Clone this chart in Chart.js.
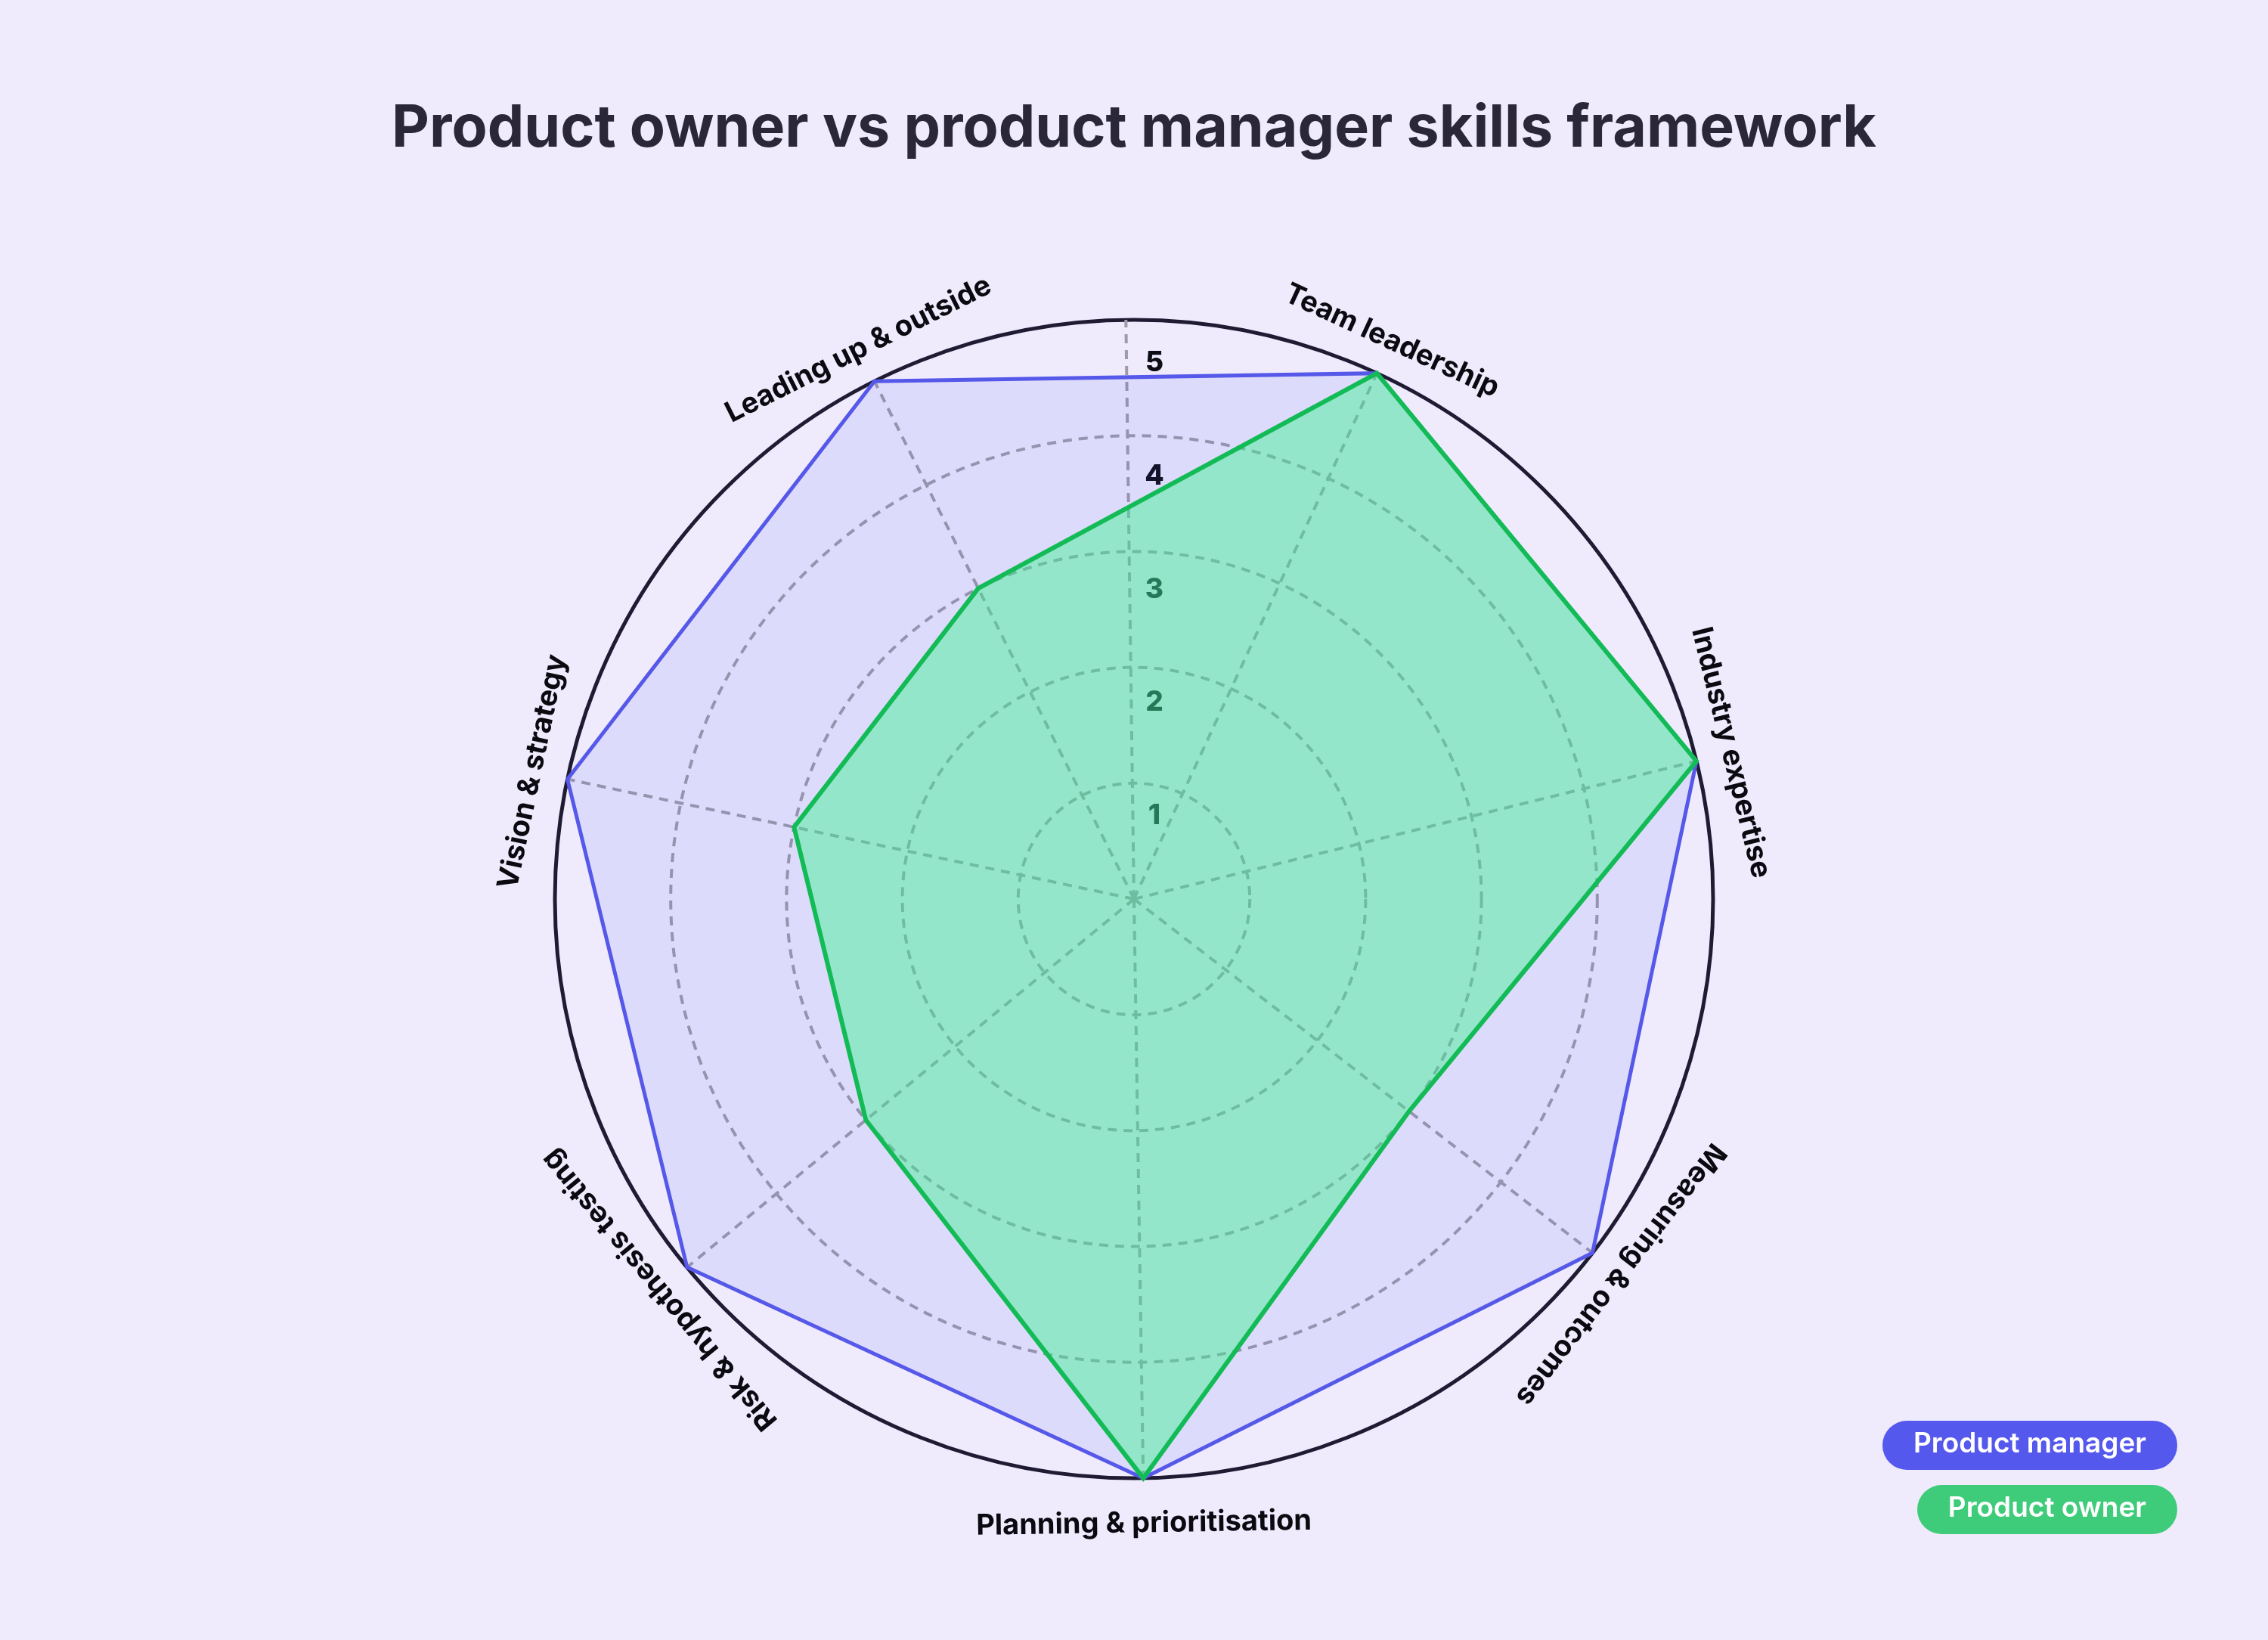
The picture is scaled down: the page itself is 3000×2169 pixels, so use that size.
<!DOCTYPE html>
<html>
<head>
<meta charset="utf-8">
<script src="https://cdn.jsdelivr.net/npm/chart.js@4.4.1/dist/chart.umd.min.js"></script>
<style>
  html, body { margin: 0; padding: 0; background: #efebfd; }
  #wrap { position: relative; width: 3000px; height: 2169px; }
  #legend { position: absolute; right: 120px; top: 1879px; display: flex; flex-direction: column; align-items: flex-end; gap: 20px; }
  .pill { box-sizing: border-box; height: 65px; line-height: 59px; padding: 6px 41px 0; border-radius: 33px; color: #ffffff; font: 600 37px Inter, sans-serif; white-space: nowrap; }
</style>
</head>
<body>
<div id="wrap">
  <canvas id="c"></canvas>
  <div id="legend"></div>
</div>
<script>
// ---- data ----
const categories = [
  'Team leadership',
  'Industry expertise',
  'Measuring & outcomes',
  'Planning & prioritisation',
  'Risk & hypothesis testing',
  'Vision & strategy',
  'Leading up & outside'
];
const productManagerScores = [5, 5, 5, 5, 5, 5, 5];
const productOwnerScores   = [5, 5, 3, 5, 3, 3, 3];
const tickValues = [1, 2, 3, 4, 5];
const seriesNames = ['Product manager', 'Product owner'];
const titleText = 'Product owner vs product manager skills framework';

// ---- styles ----
const GRID = '#9e9aa7';
const OUTER = '#1f1b33';
const PM_LINE = '#5558e8';
const PO_LINE = '#13bb57';
const legendColors = ['#5558ec', '#3fcc7a'];

const overlay = {
  id: 'overlay',
  beforeDatasetsDraw(chart) {
    const s = chart.scales.r, ctx = chart.ctx;
    const R = s.drawingArea;
    ctx.save();
    const a = -0.8 * Math.PI / 180;
    ctx.strokeStyle = GRID;
    ctx.lineWidth = 4;
    ctx.setLineDash([12, 9]);
    ctx.beginPath();
    ctx.moveTo(s.xCenter, s.yCenter);
    ctx.lineTo(s.xCenter + R * Math.sin(a), s.yCenter - R * Math.cos(a));
    ctx.stroke();
    ctx.setLineDash([]);
    ctx.font = '800 37px Inter';
    ctx.fillStyle = '#0c0c14';
    ctx.textAlign = 'center';
    ctx.textBaseline = 'middle';
    s.ticks.forEach(t => {
      if (!tickValues.includes(t.value)) return;
      const d = s.getDistanceFromCenterForValue(t.value) * 0.978 - 40;
      ctx.fillText(String(t.value), s.xCenter + 27, s.yCenter - d);
    });
    ctx.restore();
  },
  afterDatasetsDraw(chart) {
    const s = chart.scales.r, ctx = chart.ctx;
    const R = s.drawingArea;
    ctx.save();
    ctx.font = '700 38px Inter';
    ctx.fillStyle = '#0a0a10';
    ctx.textAlign = 'center';
    ctx.textBaseline = 'middle';
    chart.data.labels.forEach((lab, i) => {
      const ang = s.getIndexAngle(i);
      const deg = ang * 180 / Math.PI;
      let rot = ang, dist = R + 47;
      if (Math.abs(deg - 180) < 10) { rot = ang - Math.PI; dist = R + 60; }
      const p = s.getPointPosition(i, dist);
      ctx.save();
      ctx.translate(p.x, p.y);
      ctx.rotate(rot);
      ctx.fillText(lab, 0, 0);
      ctx.restore();
    });
    ctx.restore();
  }
};

const chart = new Chart(document.getElementById('c'), {
  type: 'radar',
  data: {
    labels: categories,
    datasets: [
      {
        label: seriesNames[0],
        data: productManagerScores,
        borderColor: PM_LINE,
        backgroundColor: 'rgba(85, 88, 235, 0.11)',
        borderWidth: 5,
        pointRadius: 0,
        fill: true,
        order: 1
      },
      {
        label: seriesNames[1],
        data: productOwnerScores,
        borderColor: PO_LINE,
        backgroundColor: 'rgba(60, 245, 145, 0.45)',
        borderWidth: 6,
        pointRadius: 0,
        fill: true,
        order: 0
      }
    ]
  },
  options: {
    responsive: true,
    maintainAspectRatio: false,
    devicePixelRatio: 1,
    animation: false,
    layout: { padding: { top: 125, left: 0, right: 0, bottom: 214 } },
    plugins: {
      legend: { display: false },
      tooltip: { enabled: false },
      title: {
        display: true,
        text: titleText,
        color: '#2a2738',
        font: { family: 'Inter', weight: '700', size: 77, lineHeight: 1.2 },
        padding: { top: 0, bottom: 205.6 }
      }
    },
    scales: {
      r: {
        min: 0,
        max: 5,
        startAngle: 24.8,
        ticks: { stepSize: 1, display: false },
        pointLabels: { display: false },
        grid: {
          circular: true,
          color: c => (c.tick && c.tick.value === 5) ? OUTER : GRID,
          lineWidth: c => (c.tick && c.tick.value === 5) ? 5 : 4
        },
        border: {
          dash: c => (c.tick && c.tick.value === 5) ? [] : [12, 9]
        },
        angleLines: { display: true, color: GRID, lineWidth: 4, borderDash: [12, 9] }
      }
    }
  },
  plugins: [overlay]
});

// HTML legend from dataset names
const legend = document.getElementById('legend');
chart.data.datasets.forEach((ds, i) => {
  const el = document.createElement('div');
  el.className = 'pill';
  el.style.background = legendColors[i];
  el.textContent = ds.label;
  legend.appendChild(el);
});
</script>
</body>
</html>
